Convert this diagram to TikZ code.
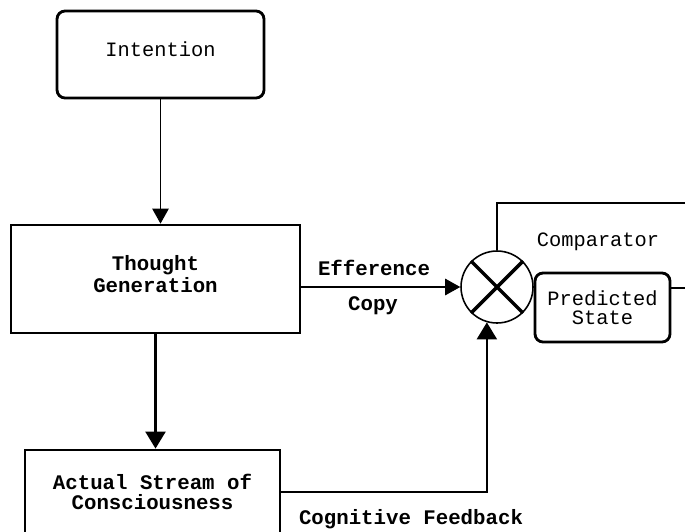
\documentclass[tikz,border=0pt]{standalone}
\usepackage{fontspec}
\setmonofont{Liberation Mono}
\usetikzlibrary{arrows.meta}
\begin{document}
\begin{tikzpicture}[x=0.02cm,y=-0.02cm]
    \tikzstyle{every node}=[font={\ttfamily\fontsize{11.6}{11}\selectfont}]
    \tikzstyle{boldtext}=[font={\ttfamily\bfseries\fontsize{11.8}{11}\selectfont}]
    \tikzstyle{roundbox}=[draw, line width=1.6pt, rounded corners=0.16cm, inner sep=0pt]
    \tikzstyle{sharpbox}=[draw, line width=1.6pt, inner sep=0pt, align=center, boldtext]
    \tikzstyle{flow}=[line width=0.6pt, -{Triangle[length=0.3cm,width=0.33cm]}]
    \tikzstyle{thickflow}=[line width=1.3pt, -{Triangle[length=0.34cm,width=0.4cm]}]
    \useasboundingbox (0,0) rectangle (685,531);
    \clip (0,0) rectangle (685,531);
    \node[roundbox, minimum width=4.14cm, minimum height=1.74cm] (intent) at (160.5,54.5) {};
    \node at (160.5,49) {Intention};
    \node[sharpbox, minimum width=5.78cm, minimum height=2.16cm] (thought) at (155.5,279) {};
    \node[boldtext, align=center] at (155.5,274) {Thought\\Generation};
    \node[sharpbox, minimum width=5.1cm, minimum height=1.68cm] (actual) at (152.5,492) {Actual Stream of\\Consciousness};
    \node[draw, circle, line width=0.9pt, minimum size=1.44cm, inner sep=0pt] (cmp) at (497,287) {};
    \draw[line width=2pt] (cmp.135) -- (cmp.-45) (cmp.45) -- (cmp.-135);
    \node[roundbox, minimum width=2.7cm, minimum height=1.38cm, align=center] (pred) at (602.5,307.5) {Predicted\\State};
    \coordinate (topright) at (685,203);
    \coordinate (predout) at (685,288);
    % connectors
    \draw[flow] (intent.south) -- (intent.south |- thought.north);
    \draw[thickflow] (thought.south) -- (thought.south |- actual.north);
    \draw[flow] (thought.east |- cmp.west) -- (cmp.west);
    \draw[line width=1.2pt] (cmp.north) |- (topright);
    \draw[line width=1.2pt] (pred.east |- predout) -- (predout);
    \draw[thickflow, line width=1.2pt] (actual.east) -| (cmp.254);
    % labels
    \node[boldtext] at (374,268) {Efference};
    \node[boldtext] at (373,306) {Copy};
    \node at (598,242) {Comparator};
    \node[boldtext] at (411,519) {Cognitive Feedback};
\end{tikzpicture}
\end{document}
